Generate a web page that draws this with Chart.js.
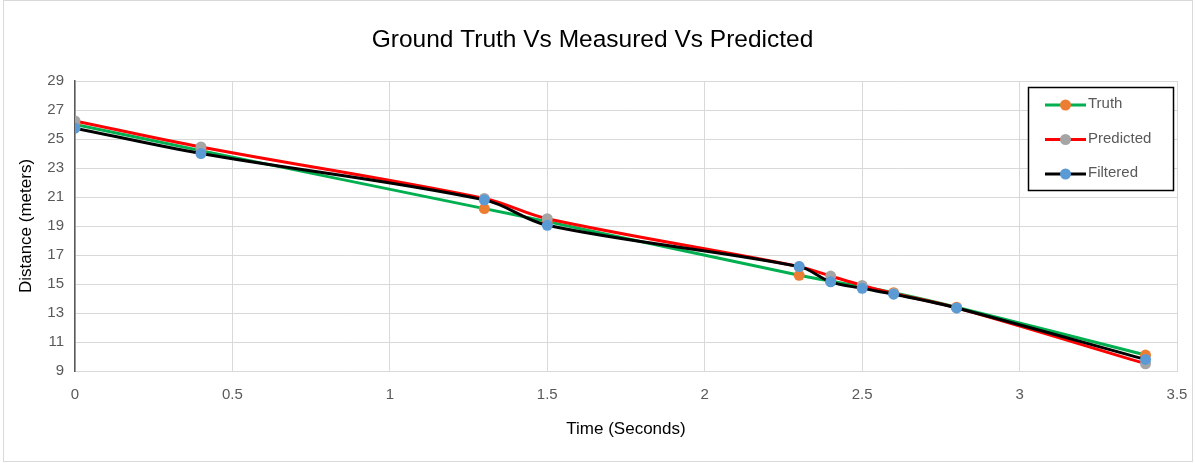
<!DOCTYPE html>
<html>
<head>
<meta charset="utf-8">
<script src="https://cdn.jsdelivr.net/npm/chart.js@4.4.1/dist/chart.umd.min.js"></script>
<style>
  html, body { margin: 0; padding: 0; background: #ffffff; }
  #wrap { position: relative; width: 1195px; height: 463px; }
</style>
</head>
<body>
<div id="wrap"><canvas id="chart" width="1195" height="463"></canvas></div>
<script>
// Sample times (seconds)
const times = [0, 0.4, 1.3, 1.5, 2.3, 2.4, 2.5, 2.6, 2.8, 3.4];
// Distance series (meters)
const truth     = [26.0, 24.2, 20.2, 19.3, 15.6, 15.2, 14.8, 14.4, 13.4, 10.1];
const predicted = [26.25, 24.45, 20.9, 19.5, 16.2, 15.55, 14.9, 14.35, 13.35, 9.5];
const filtered  = [25.75, 24.0, 20.8, 19.05, 16.2, 15.15, 14.7, 14.3, 13.35, 9.8];
const seriesNames = ['Truth', 'Predicted', 'Filtered'];
const yTicks = [9, 11, 13, 15, 17, 19, 21, 23, 25, 27, 29];
const xTicks = [0, 0.5, 1, 1.5, 2, 2.5, 3, 3.5];

const FONT = "'Liberation Sans', Arial, sans-serif";
const TEXT = '#595959';
const GRID = '#d9d9d9';

const toPoints = vals => times.map((t, i) => ({ x: t, y: vals[i] }));

function series(label, values, lineColor, markerColor, order) {
  return {
    label,
    data: toPoints(values),
    showLine: true,
    borderColor: lineColor,
    borderWidth: 3,
    tension: 0.35,
    pointRadius: 5.5,
    pointHoverRadius: 5.5,
    pointBackgroundColor: markerColor,
    pointBorderColor: markerColor,
    pointBorderWidth: 0,
    order
  };
}

// Framed legend drawn inside the plot area, plus the outer chart frame
const boxLegend = {
  id: 'boxLegend',
  afterDraw(chart) {
    const ctx = chart.ctx;
    ctx.save();
    ctx.strokeStyle = GRID;
    ctx.lineWidth = 1;
    ctx.strokeRect(3.5, 0.5, 1189, 461);
    const bx = 1028.5, by = 87.5, bw = 145, bh = 103;
    ctx.fillStyle = '#ffffff';
    ctx.fillRect(bx, by, bw, bh);
    ctx.strokeStyle = '#000000';
    ctx.lineWidth = 1.5;
    ctx.strokeRect(bx, by, bw, bh);
    const byLabel = {};
    chart.data.datasets.forEach(ds => { byLabel[ds.label] = ds; });
    seriesNames.forEach((name, i) => {
      const ds = byLabel[name];
      const cy = 105 + i * 34.5;
      ctx.strokeStyle = ds.borderColor;
      ctx.lineWidth = 3;
      ctx.beginPath();
      ctx.moveTo(1045, cy);
      ctx.lineTo(1086, cy);
      ctx.stroke();
      ctx.fillStyle = ds.pointBackgroundColor;
      ctx.beginPath();
      ctx.arc(1065.5, cy, 5.5, 0, Math.PI * 2);
      ctx.fill();
      ctx.fillStyle = TEXT;
      ctx.font = '15px ' + FONT;
      ctx.textBaseline = 'middle';
      ctx.textAlign = 'left';
      ctx.fillText(name, 1088, cy - 1);
    });
    ctx.restore();
  }
};

new Chart(document.getElementById('chart'), {
  type: 'scatter',
  data: {
    datasets: [
      series(seriesNames[0], truth, '#00b050', '#ed7d31', 3),
      series(seriesNames[1], predicted, '#ff0000', '#a5a5a5', 2),
      series(seriesNames[2], filtered, '#000000', '#5b9bd5', 1)
    ]
  },
  options: {
    responsive: false,
    animation: false,
    layout: { padding: { left: 8, right: 18, top: 0, bottom: 0 } },
    plugins: {
      legend: { display: false },
      tooltip: { enabled: false },
      title: {
        display: true,
        text: 'Ground Truth Vs Measured Vs Predicted',
        color: '#000000',
        font: { family: FONT, size: 24.5, weight: 'normal', lineHeight: 1.2 },
        padding: { top: 26, bottom: 25.6 }
      }
    },
    scales: {
      x: {
        type: 'linear',
        min: 0,
        max: 3.5,
        afterFit: s => { s.height = 92; s.paddingLeft = 0; s.paddingRight = 0; },
        afterBuildTicks: s => { s.ticks = xTicks.map(v => ({ value: v })); },
        ticks: {
          color: TEXT,
          padding: 15,
          font: { family: FONT, size: 15 },
          maxRotation: 0,
          callback: v => String(v)
        },
        grid: { color: GRID, lineWidth: 1, drawTicks: false },
        border: { color: GRID, width: 1 },
        title: {
          display: true,
          text: 'Time (Seconds)',
          color: '#000000',
          font: { family: FONT, size: 17, lineHeight: 1.2 },
          padding: { top: 0, bottom: 23 }
        }
      },
      y: {
        type: 'linear',
        min: 9,
        max: 29,
        afterFit: s => { s.width = 67; },
        afterBuildTicks: s => { s.ticks = yTicks.map(v => ({ value: v })); },
        ticks: {
          color: TEXT,
          padding: 11,
          font: { family: FONT, size: 15 },
          callback: v => String(v)
        },
        grid: { color: GRID, lineWidth: 1, drawTicks: false },
        border: { color: '#595959', width: 1.5 },
        title: {
          display: true,
          text: 'Distance (meters)',
          color: '#000000',
          font: { family: FONT, size: 17, lineHeight: 1.2 },
          padding: { top: 8, bottom: 0 }
        }
      }
    }
  },
  plugins: [boxLegend]
});
</script>
</body>
</html>
